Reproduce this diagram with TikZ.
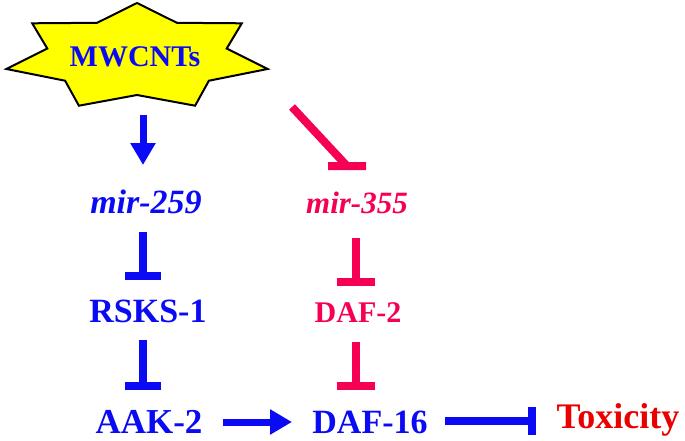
\documentclass[tikz,border=0pt]{standalone}
\usepackage{fontspec}
\setmainfont{Liberation Serif}
\usetikzlibrary{arrows.meta}
\definecolor{myblue}{RGB}{10,10,245}
\definecolor{mypink}{RGB}{245,0,85}
\definecolor{myred}{RGB}{235,0,0}
\definecolor{staryellow}{RGB}{255,255,0}
\tikzset{
  lbl/.style={inner sep=0pt, anchor=base, font=\bfseries},
  bluetxt/.style={lbl, text=myblue},
  pinktxt/.style={lbl, text=mypink},
  act/.style={draw=myblue, line width=7pt, -{Triangle[length=22pt,width=24pt]}},
  inhblue/.style={draw=myblue, line width=8pt, line cap=butt},
  inhpink/.style={draw=mypink, line width=8pt, line cap=butt},
  starshape/.style={draw=black, line width=2pt, fill=staryellow, line join=miter}
}
\begin{document}
\begin{tikzpicture}[x=1pt,y=-1pt]
\useasboundingbox (0,0) rectangle (685,441);
% star
\draw[starshape] (137,3) -- (176.9,22.8) -- (241.8,23.3) -- (226.7,48.5) -- (267.6,69.0)
  -- (208.9,80.7) -- (195.1,105.7) -- (137,95) -- (78.9,105.7) -- (65.1,80.7)
  -- (6.4,69.0) -- (47.3,48.5) -- (32.2,23.3) -- (97.1,22.8) -- cycle;
% labels
\node[bluetxt, font=\fontsize{30}{36}\selectfont\bfseries] (mw) at (135,67) {MWCNTs};
\node[bluetxt, font=\fontsize{34}{40}\selectfont\bfseries\itshape] (m259) at (146,213) {mir-259};
\node[pinktxt, font=\fontsize{31}{37}\selectfont\bfseries\itshape] (m355) at (357,213) {mir-355};
\node[bluetxt, font=\fontsize{34}{40}\selectfont\bfseries] (rsks) at (148,322) {RSKS-1};
\node[pinktxt, font=\fontsize{30}{36}\selectfont\bfseries] (daf2) at (358,322) {DAF-2};
\node[bluetxt, font=\fontsize{35}{41}\selectfont\bfseries] (aak) at (149,433) {AAK-2};
\node[bluetxt, font=\fontsize{34}{40}\selectfont\bfseries] (daf16) at (370,433) {DAF-16};
\node[lbl, text=myred, font=\fontsize{36}{42}\selectfont\bfseries] (tox) at (618,428) {Toxicity};
% connectors
\draw[act] ([xshift=8pt,yshift=-48pt]mw.base) -- ([xshift=-3pt,yshift=48pt]m259.base);
\draw[inhpink] ([xshift=157pt,yshift=-40pt]mw.base) -- ([xshift=-10pt,yshift=47pt]m355.base)
  ++(-19,0) -- ++(38,0);
\draw[inhblue] ([xshift=-3pt,yshift=-19pt]m259.base) -- ([xshift=-5pt,yshift=46pt]rsks.base)
  ++(-18,0) -- ++(36,0);
\draw[inhblue] ([xshift=-5pt,yshift=-18pt]rsks.base) -- ([xshift=-6pt,yshift=47pt]aak.base)
  ++(-18,0) -- ++(36,0);
\draw[inhpink] ([xshift=-1pt,yshift=-25pt]m355.base) -- ([xshift=-2pt,yshift=40pt]daf2.base)
  ++(-19,0) -- ++(38,0);
\draw[inhpink] ([xshift=-2pt,yshift=-20pt]daf2.base) -- ([xshift=-14pt,yshift=47pt]daf16.base)
  ++(-19,0) -- ++(38,0);
\draw[act] ([xshift=74pt,yshift=11pt]aak.base) -- ([xshift=-78pt,yshift=11pt]daf16.base);
\draw[inhblue] ([xshift=75pt,yshift=12pt]daf16.base) -- ([xshift=-86pt,yshift=7pt]tox.base)
  ++(0,-14) -- ++(0,28);
\end{tikzpicture}
\end{document}
